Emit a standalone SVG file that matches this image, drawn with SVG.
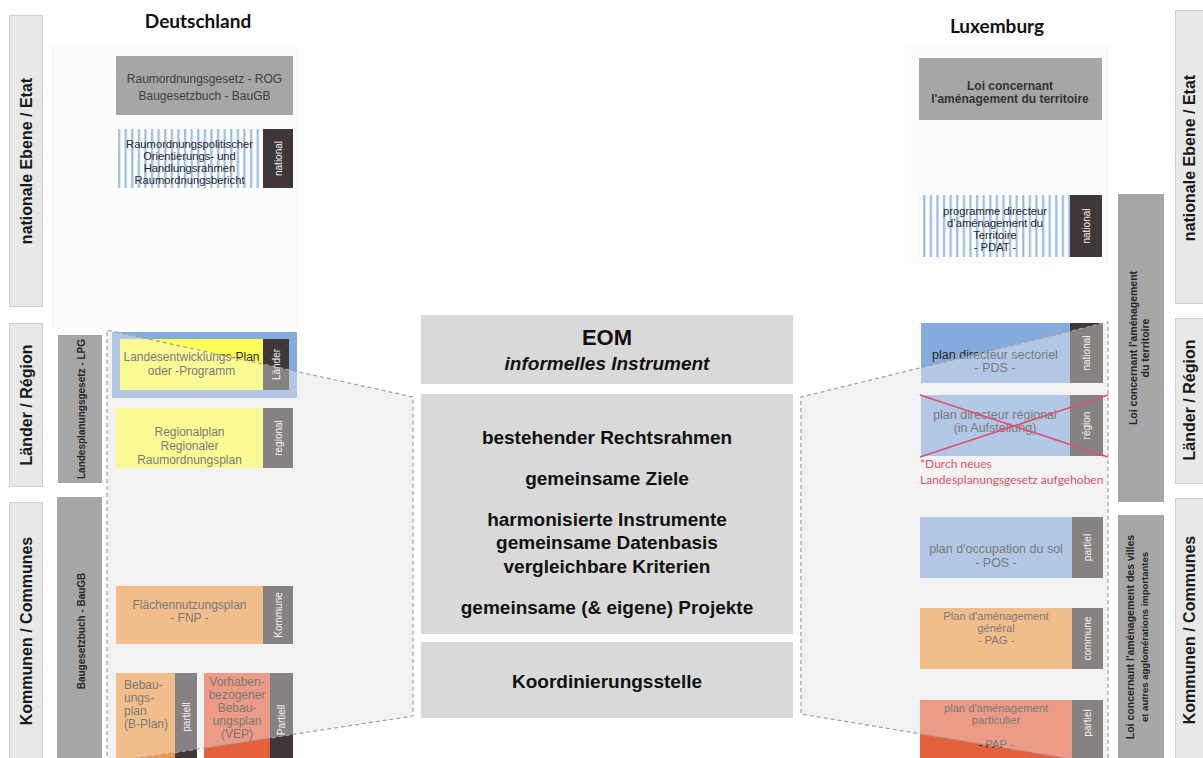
<svg xmlns="http://www.w3.org/2000/svg" width="1203" height="758" viewBox="0 0 1203 758">
<defs>
<pattern id="stripes" x="116" y="0" width="6.6" height="10" patternUnits="userSpaceOnUse">
<rect width="6.6" height="10" fill="#ffffff"/>
<rect x="2" width="2.2" height="10" fill="#98bce6"/>
</pattern>
<style>
.lab{fill:#e8e8e8;stroke:#cfcfcf;stroke-width:1}
.labt{font-family:"Liberation Sans",Arial,sans-serif;font-weight:bold;font-size:16px;fill:#1a1a1a;text-anchor:middle}
.bar{fill:#a6a6a6}
.bart{font-family:"Liberation Sans",Arial,sans-serif;font-weight:bold;font-size:10px;fill:#262626;text-anchor:middle}
.gray{fill:#a6a6a6}
.yel{fill:#ffff55}
.blu{fill:#85abdd}
.ora{fill:#f09a45}
.sal{fill:#e5603d}
.tab{fill:#403838}
.tabt{font-family:"Liberation Sans",Arial,sans-serif;font-size:10px;fill:#f4f4f4;text-anchor:middle}
.bt{font-family:"Liberation Sans",Arial,sans-serif;font-size:12px;fill:#262626;text-anchor:middle}
.bs{font-family:"Liberation Sans",Arial,sans-serif;font-size:11.2px;fill:#262626;text-anchor:middle}
.bt13{font-family:"Liberation Sans",Arial,sans-serif;font-size:12.5px;fill:#262626;text-anchor:middle}
.ct{font-family:"Liberation Sans",Arial,sans-serif;font-weight:bold;font-size:19px;fill:#111;text-anchor:middle}
.cbox{fill:#d9d9d9}
.title{font-family:Lato,"Liberation Sans",sans-serif;font-weight:bold;font-size:19px;fill:#111;text-anchor:middle}
.lens{fill:#f2f2f2}
.ov{fill:#f2f2f2;fill-opacity:0.4}
.dash{fill:none;stroke:#a0a0a0;stroke-width:1.2;stroke-dasharray:4 3}
.red{stroke:#e0506a;stroke-width:1.6}
.note{font-family:Lato,"Liberation Sans",sans-serif;font-size:12px;fill:#e0506a}
</style>
</defs>
<rect width="1203" height="758" fill="#ffffff"/>
<rect x="50" y="45" width="248" height="285" fill="#fcfcfc"/>
<rect x="905" y="45" width="205" height="220" fill="#fcfcfc"/>

<!-- lens backgrounds -->
<polygon class="lens" points="107,330 413,397 413,716 107,763"/>
<polygon class="lens" points="801,397 1108,322 1108,765 801,714"/>

<!-- titles -->
<g id="title-de"><text class="title" x="198" y="28">Deutschland</text></g>
<g id="title-lu"><text class="title" x="997" y="33">Luxemburg</text></g>

<!-- level labels left -->
<g id="lab-l-nat"><rect class="lab" x="9.5" y="15.5" width="33" height="291"/><text class="labt" transform="translate(32,161) rotate(-90)">nationale Ebene / Etat</text></g>
<g id="lab-l-reg"><rect class="lab" x="9.5" y="323.5" width="33" height="163"/><text class="labt" transform="translate(32,405) rotate(-90)">Länder / Région</text></g>
<g id="lab-l-kom"><rect class="lab" x="9.5" y="502.5" width="33" height="260"/><text class="labt" transform="translate(32,631) rotate(-90)">Kommunen / Communes</text></g>

<!-- level labels right -->
<g id="lab-r-nat"><rect class="lab" x="1175.5" y="10.5" width="33" height="293"/><text class="labt" transform="translate(1195,158) rotate(-90)">nationale Ebene / Etat</text></g>
<g id="lab-r-reg"><rect class="lab" x="1175.5" y="318.5" width="33" height="165"/><text class="labt" transform="translate(1195,400) rotate(-90)">Länder / Région</text></g>
<g id="lab-r-kom"><rect class="lab" x="1175.5" y="498.5" width="33" height="264"/><text class="labt" transform="translate(1195,630) rotate(-90)">Kommunen / Communes</text></g>

<!-- law bars -->
<g id="bar-lpg"><rect class="bar" x="58" y="335" width="44" height="148"/><text class="bart" transform="translate(85,409) rotate(-90)">Landesplanungsgesetz - LPG</text></g>
<g id="bar-baugb"><rect class="bar" x="57" y="497" width="45" height="265"/><text class="bart" transform="translate(85,631) rotate(-90)">Baugesetzbuch - BauGB</text></g>
<g id="bar-lu1"><rect class="bar" x="1118" y="194" width="46" height="308"/><text class="bart" style="font-size:10.5px" transform="translate(1137,348) rotate(-90)">Loi concernant l'aménagement</text><text class="bart" style="font-size:10.5px" transform="translate(1149,348) rotate(-90)">du territoire</text></g>
<g id="bar-lu2"><rect class="bar" x="1118" y="515" width="46" height="247"/><text class="bart" style="font-size:10.5px" transform="translate(1134,637) rotate(-90)">Loi concernant l'aménagement  des villes</text><text class="bart" style="font-size:9.5px" transform="translate(1148,637) rotate(-90)">et autres agglomérations  importantes</text></g>

<!-- Germany nodes -->
<g id="de-rog"><rect class="gray" x="116" y="56" width="177" height="59"/><text class="bt" style="fill:#404040" x="204.5" y="83">Raumordnungsgesetz - ROG</text><text class="bt" style="fill:#404040" x="204.5" y="100">Baugesetzbuch - BauGB</text></g>
<g id="de-orient"><rect x="116" y="129" width="147" height="59" fill="url(#stripes)"/><rect class="tab" x="263" y="129" width="30" height="59"/><text class="tabt" transform="translate(281.5,158.5) rotate(-90)">national</text>
<text class="bs" x="189.5" y="148">Raumordnungspolitischer</text><text class="bs" x="189.5" y="160">Orientierungs- und</text><text class="bs" x="189.5" y="172">Handlungsrahmen</text><text class="bs" x="189.5" y="184">Raumordnungsbericht</text></g>
<g id="de-lep"><rect class="blu" x="112" y="332" width="185" height="66"/><rect class="yel" x="120" y="339" width="143" height="51"/><rect class="tab" x="263" y="339" width="26" height="51"/><text class="tabt" transform="translate(279.5,364.5) rotate(-90)">Länder</text>
<text class="bt" x="191.5" y="361">Landesentwicklungs-Plan</text><text class="bt" x="191.5" y="375">oder -Programm</text></g>
<g id="de-rp"><rect class="yel" x="116" y="408" width="147" height="60"/><rect class="tab" x="263" y="408" width="30" height="60"/><text class="tabt" transform="translate(281.5,438) rotate(-90)">regional</text>
<text class="bt" x="189.5" y="436">Regionalplan</text><text class="bt" x="189.5" y="450">Regionaler</text><text class="bt" x="189.5" y="464">Raumordnungsplan</text></g>
<g id="de-fnp"><rect class="ora" x="116" y="586" width="147" height="58"/><rect class="tab" x="263" y="586" width="30" height="58"/><text class="tabt" transform="translate(281.5,615) rotate(-90)">Kommune</text>
<text class="bt" x="189.5" y="609">Flächennutzungsplan</text><text class="bt" x="189.5" y="622">- FNP -</text></g>
<g id="de-bplan"><rect class="ora" x="116" y="673" width="59" height="90"/><rect class="tab" x="175" y="673" width="22" height="90"/><text class="tabt" transform="translate(189.5,717) rotate(-90)">partiell</text>
<text class="bt" style="text-anchor:start" x="124" y="689">Bebau-</text><text class="bt" style="text-anchor:start" x="124" y="702">ungs-</text><text class="bt" style="text-anchor:start" x="124" y="715">plan</text><text class="bt" style="text-anchor:start" x="124" y="728">(B-Plan)</text></g>
<g id="de-vep"><rect class="sal" x="204" y="673" width="66" height="90"/><rect class="tab" x="270" y="673" width="23" height="90"/><text class="tabt" transform="translate(285,720) rotate(-90)">Partiell</text>
<text class="bt" x="237" y="686">Vorhaben-</text><text class="bt" x="237" y="699">bezogener</text><text class="bt" x="237" y="712">Bebau-</text><text class="bt" x="237" y="725">ungsplan</text><text class="bt" x="237" y="738">(VEP)</text></g>

<!-- Luxembourg nodes -->
<g id="lu-loi"><rect class="gray" x="919" y="58" width="183" height="62"/><text class="bt" style="font-weight:bold;fill:#333" x="1010" y="90">Loi concernant</text><text class="bt" style="font-weight:bold;fill:#333" x="1010" y="103">l'aménagement du territoire</text></g>
<g id="lu-pdat"><rect x="919" y="195" width="151" height="62" fill="url(#stripes)"/><rect class="tab" x="1070" y="195" width="32" height="62"/><text class="tabt" transform="translate(1089.5,226) rotate(-90)">national</text>
<text class="bs" x="995" y="215">programme directeur</text><text class="bs" x="995" y="227">d’aménagement du</text><text class="bs" x="995" y="239">Territoire</text><text class="bs" x="995" y="251">-  PDAT -</text></g>
<g id="lu-pds"><rect class="blu" x="921" y="323" width="149" height="60"/><rect class="tab" x="1070" y="323" width="33" height="60"/><text class="tabt" transform="translate(1090,353) rotate(-90)">national</text>
<text class="bt13" x="995" y="359">plan  directeur  sectoriel</text><text class="bt13" x="995" y="372">- PDS -</text></g>
<g id="lu-pdr"><rect class="blu" x="921" y="395" width="149" height="61"/><rect class="tab" x="1070" y="395" width="33" height="61"/><text class="tabt" transform="translate(1090,425.5) rotate(-90)">région</text>
<text class="bt13" x="995" y="419">plan directeur régional</text><text class="bt13" x="995" y="432">(in Aufstellung)</text></g>
<g id="lu-pos"><rect class="blu" x="920" y="517" width="152" height="61"/><rect class="tab" x="1072" y="517" width="31" height="61"/><text class="tabt" transform="translate(1091,547.5) rotate(-90)">partiel</text>
<text class="bt13" x="996" y="553">plan d'occupation du sol</text><text class="bt13" x="996" y="567">- POS -</text></g>
<g id="lu-pag"><rect class="ora" x="920" y="608" width="152" height="61"/><rect class="tab" x="1072" y="608" width="31" height="61"/><text class="tabt" transform="translate(1091,638.5) rotate(-90)">commune</text>
<text class="bs" x="996" y="620">Plan d'aménagement</text><text class="bs" x="996" y="632">général</text><text class="bs" x="996" y="644">- PAG -</text></g>
<g id="lu-pap"><rect class="sal" x="920" y="700" width="152" height="63"/><rect class="tab" x="1072" y="700" width="31" height="63"/><text class="tabt" transform="translate(1091,723) rotate(-90)">partiel</text>
<text class="bs" x="996" y="712">plan d'aménagement</text><text class="bs" x="996" y="724">particulier</text><text class="bs" x="996" y="748">- PAP -</text></g>

<!-- lens overlays (fade) -->
<polygon class="ov" points="107,330 413,397 413,716 107,763"/>
<polygon class="ov" points="801,397 1108,322 1108,765 801,714"/>

<!-- strike-through and note -->
<g id="lu-strike"><line class="red" x1="920" y1="395" x2="1108" y2="457"/><line class="red" x1="920" y1="457" x2="1108" y2="395"/></g>
<g id="lu-note"><text class="note" x="920" y="468">*Durch neues</text><text class="note" x="920" y="483.5">Landesplanungsgesetz aufgehoben</text></g>

<!-- center EOM -->
<g id="eom"><rect class="cbox" x="421" y="315" width="372" height="69"/><text class="ct" style="font-size:22px" x="607" y="345">EOM</text><text class="ct" style="font-style:italic" x="607" y="370">informelles Instrument</text></g>
<g id="eom-content"><rect class="cbox" x="421" y="394" width="372" height="240"/>
<text class="ct" x="607" y="444">bestehender Rechtsrahmen</text>
<text class="ct" x="607" y="485">gemeinsame Ziele</text>
<text class="ct" x="607" y="526">harmonisierte Instrumente</text>
<text class="ct" x="607" y="549">gemeinsame Datenbasis</text>
<text class="ct" x="607" y="573">vergleichbare Kriterien</text>
<text class="ct" x="607" y="614">gemeinsame (&amp; eigene) Projekte</text></g>
<g id="koord"><rect class="cbox" x="421" y="642" width="372" height="76"/><text class="ct" x="607" y="688">Koordinierungsstelle</text></g>

<!-- connectors: lens outlines -->
<g id="connectors">
<polyline class="dash" points="107,763 107,330 413,397 413,716 107,763"/>
<polyline class="dash" points="1108,765 1108,322 801,397 801,714 1108,765"/>
</g>
</svg>
